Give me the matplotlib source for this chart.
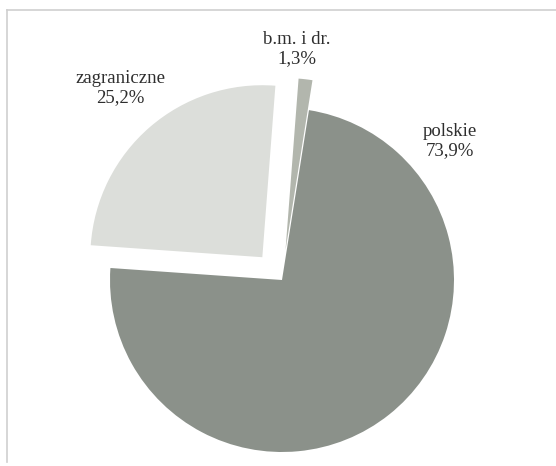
import matplotlib.pyplot as plt
from matplotlib.lines import Line2D

# data
categories = ['polskie', 'b.m. i dr.', 'zagraniczne']
shares = [73.9, 1.3, 25.2]
share_labels = ['73,9%', '1,3%', '25,2%']
explode_frac = [0.0, 0.175, 0.175]
colors = ['#8b918a', '#b2b6ad', '#dcdeda']

# label anchor points (pixels, from top-left)
label_pos = [(450, 141), (297, 49), (120, 88)]

W, H = 556, 466
R = 172
fig = plt.figure(figsize=(W / 100, H / 100), dpi=100)
ax = fig.add_axes([0, 0, 1, 1])

# explode is in data units in matplotlib, so scale by the radius
ax.pie(shares, explode=[e * R for e in explode_frac], colors=colors,
       startangle=176, counterclock=True, center=(282, H - 280), radius=R,
       wedgeprops=dict(linewidth=0))

# pie() resets the limits, so set them afterwards
ax.set_xlim(0, W)
ax.set_ylim(0, H)
ax.set_aspect('equal')
ax.axis('off')

for name, pct, (x, y) in zip(categories, share_labels, label_pos):
    ax.text(x, H - y, name + '\n' + pct, ha='center', va='center',
            fontsize=13.5, family='Liberation Serif', color='#2e2e2e',
            linespacing=1.2)

# thin frame lines (top and left) as in the scan
fig.add_artist(Line2D([7 / W, 1], [1 - 10 / H, 1 - 10 / H],
                      color='#cfcfcf', linewidth=1.2))
fig.add_artist(Line2D([7 / W, 7 / W], [1 - 10 / H, 4 / H],
                      color='#cfcfcf', linewidth=1.2))

fig.savefig('out.png', dpi=100)
